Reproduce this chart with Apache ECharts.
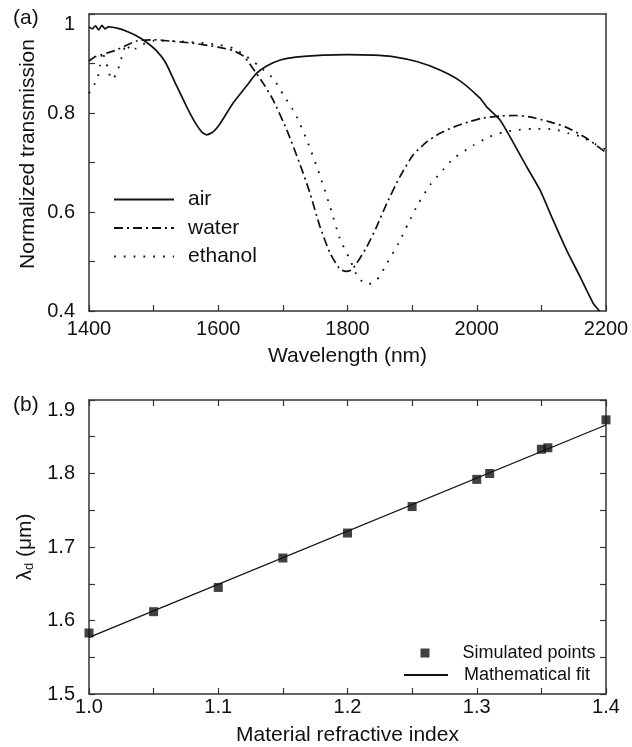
<!DOCTYPE html>
<html><head><meta charset="utf-8">
<script src="https://cdn.jsdelivr.net/npm/echarts@6/dist/echarts.min.js"></script>
<style>html,body{margin:0;padding:0;background:#fff}#c{width:632px;height:747px}</style>
</head><body><div id="c"></div>
<script>
const FONT = 'Liberation Sans, Arial, Helvetica, sans-serif';

// ---- panel (a): normalized transmission vs wavelength ----
const airWl = [1400,1405,1410,1415,1420,1425,1430,1445,1460,1476,1490,1505,1518,1533,1551,1565,1575,1582,1592,1603,1623,1644,1659,1675,1696,1720,1763,1800,1840,1870,1907,1943,1974,2005,2015,2036,2057,2077,2098,2118,2139,2160,2180,2190];
const airT  = [0.974,0.970,0.976,0.968,0.977,0.970,0.974,0.971,0.964,0.954,0.942,0.925,0.903,0.862,0.813,0.779,0.761,0.756,0.762,0.779,0.820,0.855,0.880,0.895,0.907,0.913,0.917,0.918,0.917,0.914,0.904,0.887,0.865,0.830,0.813,0.786,0.739,0.692,0.644,0.584,0.523,0.469,0.416,0.400];

const waterWl = [1400,1410,1420,1430,1440,1455,1475,1500,1520,1560,1600,1623,1640,1659,1672,1685,1706,1726,1742,1757,1773,1788,1798,1806,1814,1830,1845,1861,1881,1902,1923,1943,1965,1990,2010,2036,2060,2082,2113,2139,2170,2200];
const waterT  = [0.905,0.914,0.918,0.922,0.926,0.935,0.946,0.948,0.946,0.941,0.933,0.926,0.914,0.880,0.855,0.826,0.766,0.698,0.638,0.572,0.517,0.485,0.480,0.483,0.496,0.530,0.570,0.618,0.671,0.716,0.742,0.759,0.772,0.783,0.790,0.794,0.795,0.792,0.782,0.771,0.749,0.720];

const ethWl = [1400,1406,1413,1417,1421,1425,1430,1434,1442,1447,1452,1458,1465,1472,1480,1500,1550,1600,1625,1644,1660,1670,1685,1701,1719,1739,1757,1773,1788,1804,1817,1832,1845,1861,1879,1894,1910,1928,1943,1964,1995,2020,2041,2065,2087,2120,2142,2160,2185,2200];
const ethT  = [0.840,0.852,0.870,0.895,0.925,0.905,0.890,0.868,0.877,0.897,0.919,0.940,0.925,0.930,0.937,0.946,0.944,0.938,0.930,0.914,0.898,0.887,0.870,0.836,0.799,0.739,0.675,0.611,0.547,0.503,0.466,0.454,0.462,0.496,0.537,0.577,0.618,0.655,0.678,0.708,0.735,0.752,0.761,0.766,0.768,0.767,0.759,0.753,0.736,0.726];

// ---- panel (b): dip wavelength vs refractive index ----
const nSim   = [1.0,1.05,1.1,1.15,1.2,1.25,1.3,1.31,1.35,1.355,1.4];
const lamSim = [1.583,1.612,1.645,1.685,1.719,1.755,1.792,1.800,1.833,1.835,1.873];
const nFit   = [1.0,1.4];
const lamFit = [1.577,1.866];

const pairs = (xs, ys) => xs.map((x, i) => [x, ys[i]]);

const AX = '#333';
const txt = {fontFamily: FONT, color: '#111'};
function mainAxis(gridIndex, position, min, max, interval, labelOpts, nameOpts) {
  return Object.assign({
    type: 'value', gridIndex, position, min, max, interval,
    axisLine: {show: true, onZero: false, lineStyle: {color: AX, width: 1.5}},
    axisTick: {show: true, inside: true, length: 6, lineStyle: {color: AX, width: 1.2}},
    minorTick: {show: true, splitNumber: 2, length: 6, lineStyle: {color: AX, width: 1.2}},
    splitLine: {show: false}, minorSplitLine: {show: false},
    axisLabel: Object.assign({fontSize: 20, fontFamily: FONT, color: '#111'}, labelOpts),
    nameMoveOverlap: false
  }, nameOpts);
}
function mirrorAxis(gridIndex, position, min, max, interval, ticks) {
  return {
    type: 'value', gridIndex, position, min, max, interval,
    axisLine: {show: true, onZero: false, lineStyle: {color: AX, width: 1.5}},
    axisTick: {show: ticks, inside: true, length: 6, lineStyle: {color: AX, width: 1.2}},
    minorTick: {show: ticks, splitNumber: 2, length: 6, lineStyle: {color: AX, width: 1.2}},
    splitLine: {show: false}, axisLabel: {show: false}
  };
}

const option = {
  animation: false,
  backgroundColor: '#fff',
  textStyle: {fontFamily: FONT},
  grid: [
    {left: 89, right: 26, top: 14, height: 297, outerBoundsMode: 'none'},
    {left: 89, right: 26, top: 400, height: 294, outerBoundsMode: 'none'}
  ],
  xAxis: [
    mainAxis(0, 'bottom', 1400, 2200, 200, {margin: 8, formatter: v => String(v)},
      {name: 'Wavelength (nm)', nameLocation: 'middle', nameGap: 35,
       nameTextStyle: Object.assign({fontSize: 21}, txt)}),
    mirrorAxis(0, 'top', 1400, 2200, 200, false),
    mainAxis(1, 'bottom', 1.0, 1.4, 0.1, {margin: 3, formatter: v => v.toFixed(1)},
      {name: 'Material refractive index', nameLocation: 'middle', nameGap: 31,
       nameTextStyle: Object.assign({fontSize: 21}, txt)}),
    mirrorAxis(1, 'top', 1.0, 1.4, 0.1, true)
  ],
  yAxis: [
    mainAxis(0, 'left', 0.4, 1.0, 0.2,
      {margin: 14, verticalAlignMaxLabel: 'top',
       formatter: v => (Math.abs(v - 1) < 1e-9 ? '1' : v.toFixed(1))},
      {name: 'Normalized transmission', nameLocation: 'middle', nameGap: 50,
       nameTextStyle: Object.assign({fontSize: 21, padding: [0, 0, 0, 17]}, txt)}),
    mirrorAxis(0, 'right', 0.4, 1.0, 0.2, false),
    mainAxis(1, 'left', 1.5, 1.9, 0.1,
      {margin: 14, verticalAlignMaxLabel: 'top', formatter: v => v.toFixed(1)},
      {name: '{a|λ}{s|d}{a| (μm)}', nameLocation: 'middle', nameGap: 53,
       nameTextStyle: Object.assign({fontSize: 21, rich: {
         a: {fontSize: 21, fontFamily: FONT, color: '#111'},
         s: {fontSize: 13, fontFamily: FONT, color: '#111', verticalAlign: 'bottom'}
       }}, txt)}),
    mirrorAxis(1, 'right', 1.5, 1.9, 0.1, true)
  ],
  legend: [
    {data: ['air', 'water', 'ethanol'], orient: 'vertical', left: 113, top: 189, padding: 0,
     itemStyle: {opacity: 0},
     itemWidth: 60, itemHeight: 14, itemGap: 7.5, selectedMode: false,
     textStyle: {fontSize: 21, lineHeight: 21, fontFamily: FONT, color: '#111', padding: [0, 0, 0, 9]}},
    {data: ['Simulated points'], orient: 'vertical', left: 420.5, top: 644, padding: 0,
     itemWidth: 9, itemHeight: 9, selectedMode: false,
     textStyle: {fontSize: 18, lineHeight: 18, fontFamily: FONT, color: '#111', padding: [0, 0, 0, 28]}},
    {data: ['Mathematical fit'], orient: 'vertical', left: 403, top: 666, padding: 0,
     itemStyle: {opacity: 0},
     itemWidth: 44, itemHeight: 9, selectedMode: false,
     textStyle: {fontSize: 18, lineHeight: 18, fontFamily: FONT, color: '#111', padding: [0, 0, 0, 11]}}
  ],
  graphic: [
    {type: 'text', left: 13, top: 8, style: {text: '(a)', fontSize: 21, fontFamily: FONT, fill: '#111'}},
    {type: 'text', left: 13, top: 395, style: {text: '(b)', fontSize: 21, fontFamily: FONT, fill: '#111'}}
  ],
  series: [
    {name: 'air', type: 'line', xAxisIndex: 0, yAxisIndex: 0, data: pairs(airWl, airT),
     symbol: 'none', smooth: 0.2, clip: true, itemStyle: {color: '#111'},
     lineStyle: {color: '#111', width: 1.7, type: 'solid'}},
    {name: 'water', type: 'line', xAxisIndex: 0, yAxisIndex: 0, data: pairs(waterWl, waterT),
     symbol: 'none', smooth: 0.2, clip: true, itemStyle: {color: '#111'},
     lineStyle: {color: '#111', width: 1.7, type: [9, 4, 2, 4]}},
    {name: 'ethanol', type: 'line', xAxisIndex: 0, yAxisIndex: 0, data: pairs(ethWl, ethT),
     symbol: 'none', smooth: 0.2, clip: true, itemStyle: {color: '#111'},
     lineStyle: {color: '#111', width: 1.8, type: [1.8, 8]}},
    {name: 'Mathematical fit', type: 'line', xAxisIndex: 2, yAxisIndex: 2, data: pairs(nFit, lamFit),
     symbol: 'none', clip: true, itemStyle: {color: '#111'},
     lineStyle: {color: '#111', width: 1.3, type: 'solid'}, z: 2},
    {name: 'Simulated points', type: 'scatter', xAxisIndex: 2, yAxisIndex: 2, data: pairs(nSim, lamSim),
     symbol: 'rect', symbolSize: 9, itemStyle: {color: '#111'}, clip: false, z: 3}
  ]
};
const chart = echarts.init(document.getElementById('c'), null, {renderer: 'canvas'});
chart.setOption(option);
</script>
</body></html>
